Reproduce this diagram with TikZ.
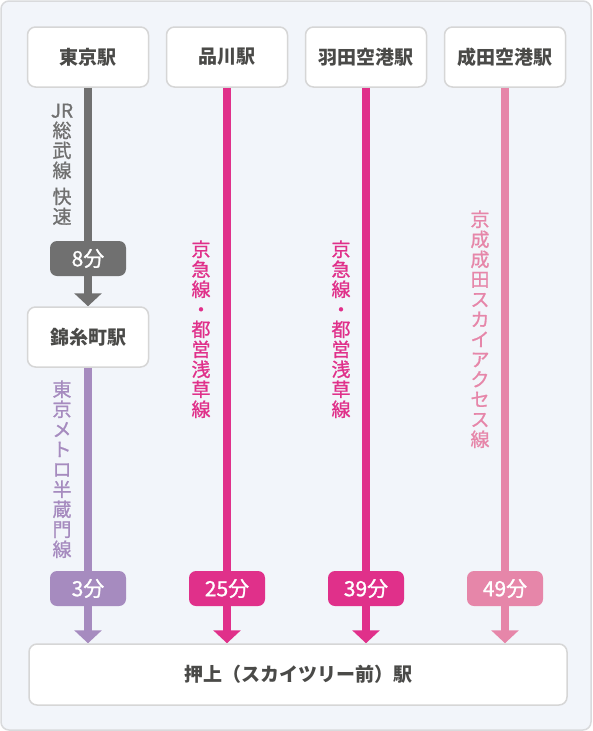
\documentclass[tikz,border=0pt]{standalone}
\usepackage{fontspec}
\setmainfont{Noto Sans CJK JP}
\newfontfamily\medfont[FakeBold=1.0]{Noto Sans CJK JP}
\usetikzlibrary{arrows.meta}

\definecolor{framebg}{HTML}{F2F5FA}
\definecolor{framebd}{HTML}{D9DADC}
\definecolor{boxline}{HTML}{D6D6D6}
\definecolor{stationtext}{HTML}{4A4A48}
\definecolor{jrgray}{HTML}{707070}
\definecolor{hanzomon}{HTML}{A68BBF}
\definecolor{keikyu}{HTML}{E0308A}
\definecolor{skyaccess}{HTML}{E686A9}

\tikzset{
    station/.style={draw=boxline,line width=1.5pt,fill=white,rounded corners=8pt,
        minimum width=121pt,minimum height=60pt,text=stationtext,
        font=\fontsize{19}{19}\selectfont\bfseries},
    badge/.style={fill=#1,rounded corners=7pt,minimum width=76pt,minimum height=35pt,
        text=white,font=\medfont\fontsize{21}{21}\selectfont},
    route/.style={line width=8pt,draw=#1},
    tate/.style={text=#1,align=center,inner sep=0pt,font=\medfont\fontsize{19}{20}\selectfont},
    tip/.style={-{Triangle[width=27pt,length=13pt]}}
}

\begin{document}
\begin{tikzpicture}[x=1pt,y=-1pt]
    \useasboundingbox (0,0) rectangle (592,731);
    \draw[draw=framebd,fill=framebg,line width=1.5pt,rounded corners=8pt] (1,1) rectangle (591,730);

    % stations
    \node[station] (tokyo) at (88,57) {東京駅};
    \node[station] (shinagawa) at (227,57) {品川駅};
    \node[station] (haneda) at (366,57) {羽田空港駅};
    \node[station] (narita) at (505,57) {成田空港駅};
    \node[station] (kinshicho) at (88,337) {錦糸町駅};
    \node[station,minimum width=538pt,minimum height=61pt] (oshiage) at (298,674.5) {押上（スカイツリー前）駅};

    % times
    \node[badge=jrgray] (t8) at (88,258.5) {8分};
    \node[badge=hanzomon] (t3) at (88,588.5) {3分};
    \node[badge=keikyu] (t25) at (227,588.5) {25分};
    \node[badge=keikyu] (t39) at (366,588.5) {39分};
    \node[badge=skyaccess] (t49) at (505,588.5) {49分};

    % routes
    \draw[route=jrgray] (tokyo.south) -- (t8.north)
        node[midway,xshift=-26pt,tate=jrgray] {JR\\総\\武\\線\\[6pt]快\\速};
    \draw[route=jrgray,tip] (t8.south) -- (kinshicho.north);
    \draw[route=hanzomon] (kinshicho.south) -- (t3.north)
        node[midway,xshift=-26pt,tate=hanzomon] {東\\京\\メ\\ト\\ロ\\半\\蔵\\門\\線};
    \draw[route=hanzomon,tip] (t3.south) -- (t3.south |- oshiage.north);
    \draw[route=keikyu] (shinagawa.south) -- (t25.north)
        node[midway,xshift=-26pt,tate=keikyu] {京\\急\\線\\・\\都\\営\\浅\\草\\線};
    \draw[route=keikyu,tip] (t25.south) -- (t25.south |- oshiage.north);
    \draw[route=keikyu] (haneda.south) -- (t39.north)
        node[midway,xshift=-25pt,tate=keikyu] {京\\急\\線\\・\\都\\営\\浅\\草\\線};
    \draw[route=keikyu,tip] (t39.south) -- (t39.south |- oshiage.north);
    \draw[route=skyaccess] (narita.south) -- (t49.north)
        node[midway,xshift=-25pt,tate=skyaccess] {京\\成\\成\\田\\ス\\カ\\イ\\ア\\ク\\セ\\ス\\線};
    \draw[route=skyaccess,tip] (t49.south) -- (t49.south |- oshiage.north);
\end{tikzpicture}
\end{document}
